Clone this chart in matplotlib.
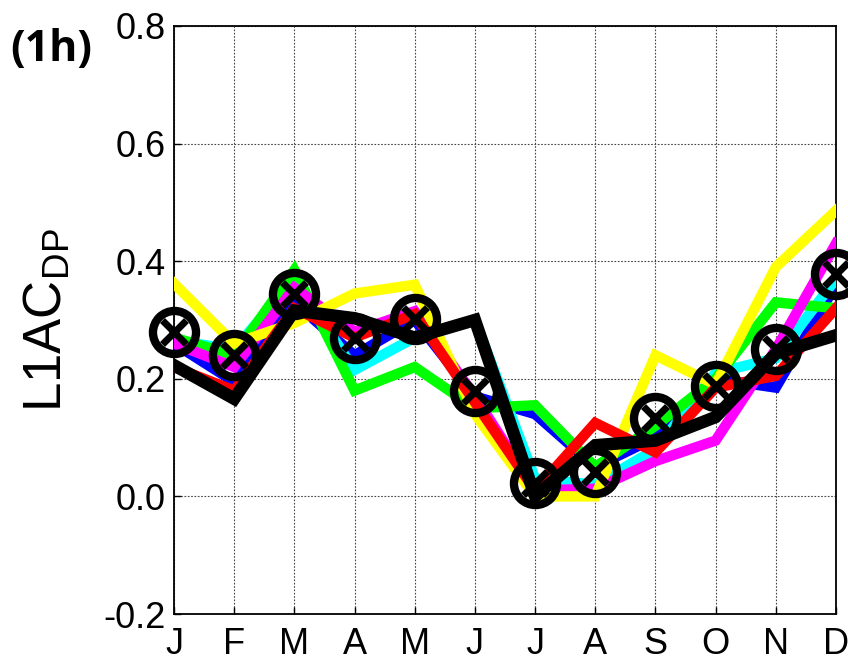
import numpy as np
import matplotlib
matplotlib.use("Agg")
import matplotlib.pyplot as plt

months = ["J", "F", "M", "A", "M", "J", "J", "A", "S", "O", "N", "D"]

blue    = [0.26, 0.195, 0.33, 0.24, 0.30, 0.17, 0.14, 0.05, 0.10, 0.20, 0.185, 0.36]
cyan    = [0.265, 0.25, 0.37, 0.215, 0.27, 0.30, 0.03, 0.02, 0.08, 0.21, 0.235, 0.37]
green   = [0.27, 0.24, 0.385, 0.18, 0.22, 0.15, 0.155, 0.05, 0.12, 0.20, 0.33, 0.32]
magenta = [0.26, 0.22, 0.355, 0.28, 0.315, 0.17, 0.01, 0.013, 0.06, 0.095, 0.25, 0.43]
yellow  = [0.362, 0.26, 0.295, 0.345, 0.36, 0.14, 0.0, 0.0, 0.24, 0.19, 0.39, 0.486]
red     = [0.22, 0.18, 0.32, 0.27, 0.31, 0.16, 0.01, 0.125, 0.075, 0.185, 0.205, 0.32]
black   = [0.223, 0.166, 0.316, 0.303, 0.27, 0.30, 0.0, 0.087, 0.095, 0.135, 0.243, 0.274]
ensemble_mean = [0.279, 0.241, 0.345, 0.270, 0.301, 0.180, 0.022, 0.041, 0.133, 0.187, 0.250, 0.379]

series = [
    (blue, "#0000ff"),
    (cyan, "#00ffff"),
    (green, "#00ff00"),
    (magenta, "#ff00ff"),
    (yellow, "#ffff00"),
    (red, "#ff0000"),
]

fig = plt.figure(figsize=(8.48, 6.61), dpi=100)
ax = fig.add_axes([0.2052, 0.0711, 0.7806, 0.8896])

x = np.arange(len(months))
for vals, col in series:
    ax.plot(x, vals, color=col, lw=7.5, solid_joinstyle="miter", zorder=3)
ax.plot(x, black, color="black", lw=9, solid_joinstyle="miter", zorder=4)

# ensemble mean: open circle with a cross inside
ax.plot(x, ensemble_mean, ls="none", marker="o", ms=31, mfc="none",
        mec="black", mew=6, zorder=5, clip_on=False)
ax.plot(x, ensemble_mean, ls="none", marker="x", ms=17, mec="black",
        mew=5, zorder=5, clip_on=False)

ax.set_xlim(0, 11)
ax.set_ylim(-0.2, 0.8)
ax.set_xticks(x)
ax.set_xticklabels(months)
ax.set_yticks([-0.2, 0.0, 0.2, 0.4, 0.6, 0.8])
ax.set_yticklabels(["-0.2", "0.0", "0.2", "0.4", "0.6", "0.8"])
ax.tick_params(direction="in", length=5, width=1, labelsize=26)
ax.tick_params(axis="x", pad=9)
ax.tick_params(axis="y", pad=6)
for lab in ax.get_xticklabels() + ax.get_yticklabels():
    lab.set_family("Liberation Sans")
ax.grid(True, color="#444444", ls=(0, (1.5, 1.5)), lw=0.8)
ax.set_axisbelow(True)
for sp in ax.spines.values():
    sp.set_linewidth(1.3)

ax.set_ylabel(r"L1AC$_{\mathregular{DP}}$", fontsize=38, family="Liberation Sans", labelpad=22)

fig.text(0.012, 0.925, "(1h)", fontsize=31, fontweight="bold", family="Open Sans",
         ha="left", va="center")

fig.savefig("out.png", dpi=100)
